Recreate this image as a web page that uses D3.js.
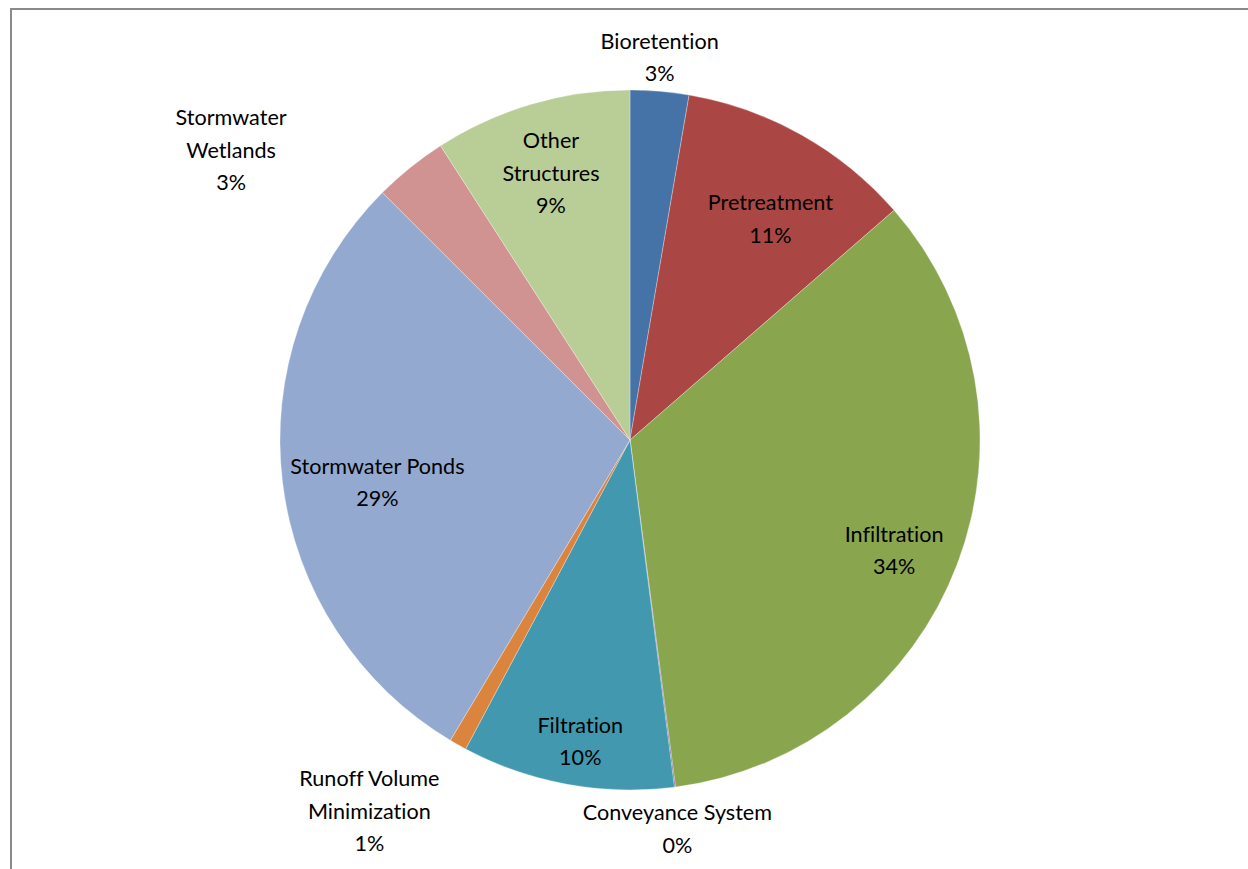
<!DOCTYPE html>
<html>
<head>
<meta charset="utf-8">
<script src="https://cdn.jsdelivr.net/npm/d3@7"></script>
<style>
  html, body { margin: 0; padding: 0; background: #fff; }
  svg { display: block; }
  text { font-family: "Lato", "Open Sans", sans-serif; fill: #000;
         font-variant-ligatures: none; font-feature-settings: "liga" 0, "clig" 0; }
</style>
</head>
<body>
<svg id="chart" width="1248" height="869"></svg>
<script>
// ---- data ----
const categories = [
  "Bioretention", "Pretreatment", "Infiltration", "Conveyance System",
  "Filtration", "Runoff Volume Minimization", "Stormwater Ponds",
  "Stormwater Wetlands", "Other Structures"
];
const shares = [2.7, 10.9, 34.3, 0.05, 9.8, 0.8, 28.9, 3.4, 9.1];
const percentLabels = ["3%", "11%", "34%", "0%", "10%", "1%", "29%", "3%", "9%"];
const labelLines = [
  ["Bioretention"], ["Pretreatment"], ["Infiltration"], ["Conveyance System"],
  ["Filtration"], ["Runoff Volume", "Minimization"], ["Stormwater Ponds"],
  ["Stormwater", "Wetlands"], ["Other", "Structures"]
];
const colors = ["#4572A7", "#AA4643", "#89A54E", "#71588F", "#4198AF",
                "#DB843D", "#93A9CF", "#D19392", "#B9CD96"];

// ---- layout ----
const W = 1248, H = 869;
const cx = 630, cy = 440, R = 350;
const lineH = 32.5;
// label radius factor (relative to R) and pixel nudge, per slice
const labelLayout = [
  {k: 1.10, dx: -3,  dy: 1},
  {k: 0.76, dx: 10,  dy: 11},
  {k: 0.81, dx: -1,  dy: 10},
  {k: 1.12, dx: -3,  dy: 0},
  {k: 0.87, dx: 5,   dy: 2},
  {k: 1.30, dx: -37, dy: -25},
  {k: 0.71, dx: -6,  dy: 12},
  {k: 1.41, dx: -89, dy: 94},
  {k: 0.80, dx: 0,   dy: 2}
];

const svg = d3.select("#chart");

// frame
svg.append("rect")
  .attr("x", 11).attr("y", 9)
  .attr("width", W + 20).attr("height", H + 20)
  .attr("fill", "none").attr("stroke", "#8a8a8a").attr("stroke-width", 2);

const data = categories.map((c, i) => ({name: c, value: shares[i], i}));
const pie = d3.pie().value(d => d.value).sort(null).startAngle(0).endAngle(2 * Math.PI);
const arcs = pie(data);
const arc = d3.arc().innerRadius(0).outerRadius(R);

const g = svg.append("g").attr("transform", `translate(${cx},${cy})`);
g.selectAll("path.slice")
  .data(arcs)
  .join("path")
  .attr("class", "slice")
  .attr("d", arc)
  .attr("fill", d => colors[d.data.i])
  .attr("stroke", "#fff")
  .attr("stroke-width", 0.3);

const fontSize = 21.6;
arcs.forEach(d => {
  const L = labelLayout[d.data.i];
  const la = d3.arc().innerRadius(L.k * R).outerRadius(L.k * R);
  const [px, py] = la.centroid(d);
  const lines = labelLines[d.data.i].concat([percentLabels[d.data.i]]);
  const n = lines.length;
  const x = px + L.dx, y = py + L.dy;
  const t = g.append("text")
    .attr("text-anchor", "middle")
    .attr("font-size", fontSize);
  lines.forEach((s, j) => {
    t.append("tspan")
      .attr("x", x)
      .attr("y", y + (j - (n - 1) / 2) * lineH)
      .attr("dy", "0.35em")
      .text(s);
  });
});
</script>
</body>
</html>
